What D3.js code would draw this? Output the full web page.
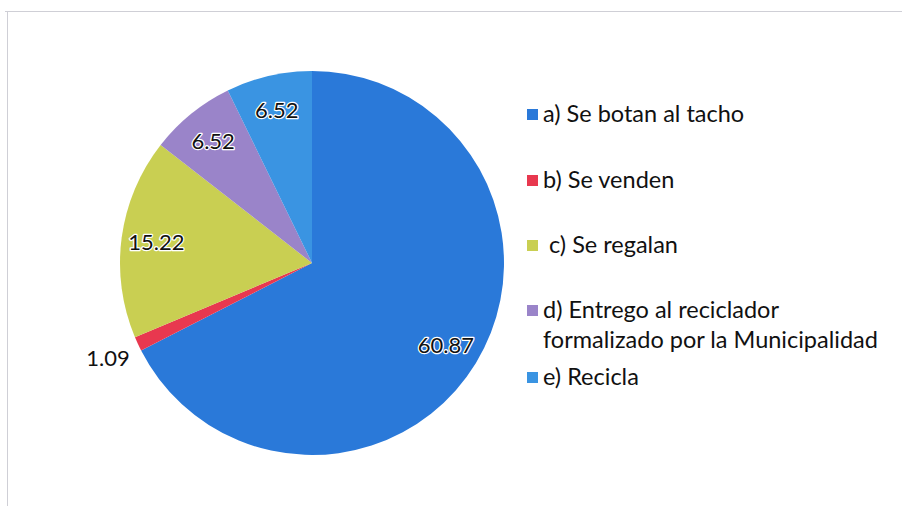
<!DOCTYPE html>
<html>
<head>
<meta charset="utf-8">
<script src="https://cdn.jsdelivr.net/npm/d3@7"></script>
<style>
  body { margin: 0; background: #fff; }
  svg { display: block; font-family: Lato, "Open Sans", sans-serif; }
  .lbl { font-size: 22px; fill: #111; stroke: #fff; stroke-width: 2.5px; paint-order: stroke; stroke-linejoin: round; }
  .leg { font-size: 23.5px; fill: #111; }
</style>
</head>
<body>
<div id="chart"></div>
<script>
// data
var categories = ["a) Se botan al tacho", "b) Se venden", "c) Se regalan",
                  "d) Entrego al reciclador formalizado por la Municipalidad", "e) Recicla"];
var values = [60.87, 1.09, 15.22, 6.52, 6.52];
var colors = ["#2a79d9", "#e8384f", "#c9cf52", "#9a84c9", "#3a94e2"];
var legendLines = [["a) Se botan al tacho"], ["b) Se venden"], [" c) Se regalan"],
                   ["d) Entrego al reciclador", "formalizado por la Municipalidad"], ["e) Recicla"]];

var width = 902, height = 506;
var cx = 312, cy = 263, radius = 192;

var svg = d3.select("#chart").append("svg")
    .attr("width", width)
    .attr("height", height);

// faint frame
svg.append("line").attr("x1", 5).attr("x2", width).attr("y1", 11.5).attr("y2", 11.5)
    .attr("stroke", "#cfcfd6").attr("stroke-width", 1);
svg.append("line").attr("x1", 7.5).attr("x2", 7.5).attr("y1", 11).attr("y2", height)
    .attr("stroke", "#cfcfd6").attr("stroke-width", 1);

var pie = d3.pie().sort(null).value(function(d) { return d; });
var arcs = pie(values);

var arc = d3.arc().innerRadius(0).outerRadius(radius);
var labelArc = d3.arc().innerRadius(157 * 2 - radius).outerRadius(radius);
var outArc = d3.arc().innerRadius(225 * 2 - radius).outerRadius(radius);

var g = svg.append("g")
    .attr("transform", "translate(" + cx + "," + cy + ")");

g.selectAll("path.slice")
    .data(arcs)
  .enter().append("path")
    .attr("class", "slice")
    .attr("d", arc)
    .attr("fill", function(d, i) { return colors[i]; });

// value labels (small slice goes outside)
g.selectAll("text.lbl")
    .data(arcs)
  .enter().append("text")
    .attr("class", "lbl")
    .attr("transform", function(d) {
      var c = (d.endAngle - d.startAngle) < 0.1 ? outArc.centroid(d) : labelArc.centroid(d);
      return "translate(" + c + ")";
    })
    .attr("text-anchor", "middle")
    .attr("dy", "0.35em")
    .style("stroke-width", function(d) { return (d.endAngle - d.startAngle) < 0.1 ? 0 : null; })
    .text(function(d) { return d.data.toFixed(2); });

// legend
var legY = [114, 180, 245, 310, 377];
var leg = svg.append("g");
legendLines.forEach(function(lines, i) {
  leg.append("rect")
      .attr("x", 527).attr("y", legY[i] - 5)
      .attr("width", 11).attr("height", 11)
      .attr("fill", colors[i]);
  lines.forEach(function(t, j) {
    leg.append("text")
        .attr("class", "leg")
        .attr("x", 543)
        .attr("y", legY[i] + j * 30)
        .attr("dy", "0.35em")
        .attr("xml:space", "preserve")
        .style("white-space", "pre")
        .text(t);
  });
});
</script>
</body>
</html>
